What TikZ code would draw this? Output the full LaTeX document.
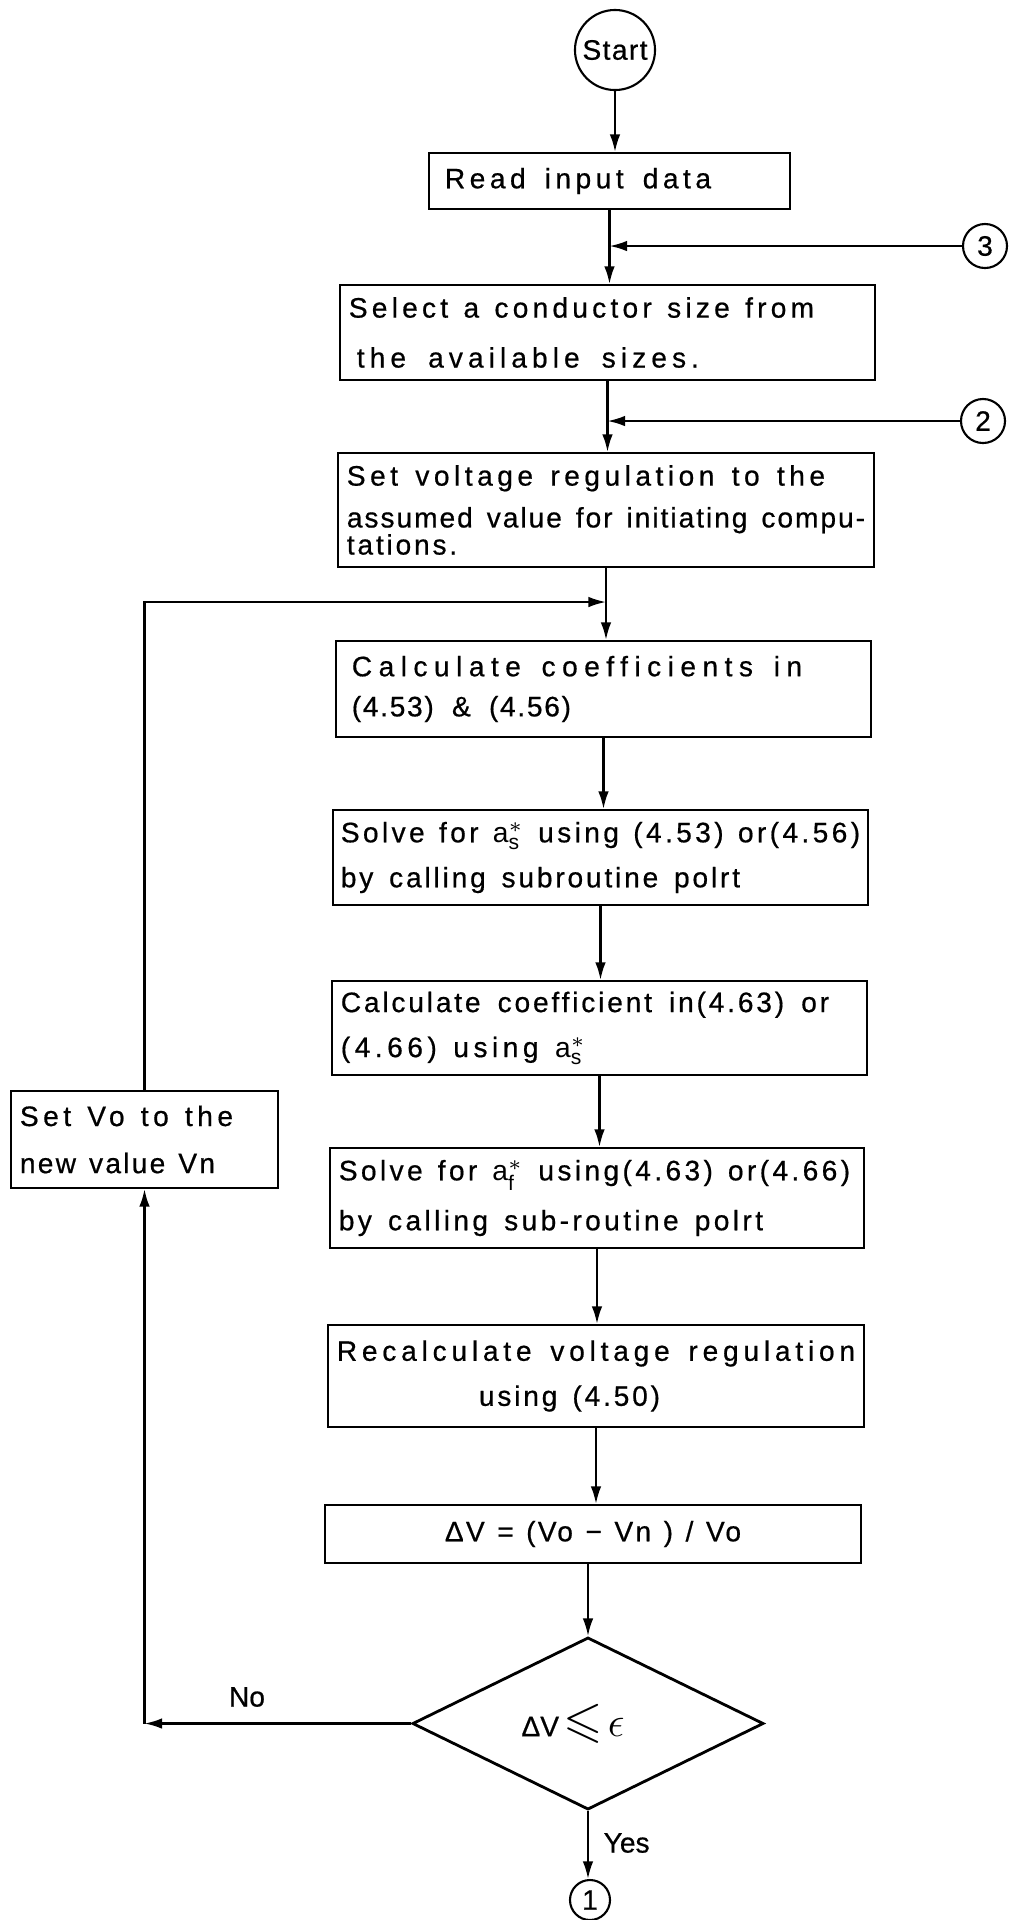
\documentclass[tikz,border=0pt]{standalone}
\usepackage{fontspec}
\usepackage{amssymb}
\setmainfont{Liberation Sans}[FakeBold=0.6]
\setsansfont{Liberation Sans}
\usetikzlibrary{shapes.geometric,arrows.meta}
\setlength\parindent{0pt}
\newcommand\fitline[3][6]{{\addfontfeature{LetterSpace=#1}\spaceskip=0.3em plus 1fil\relax\xspaceskip=\spaceskip\makebox[#2][s]{#3}}}
\newcommand\astar[1]{$\mathsf{a}_{\mathsf{#1}}^{*}$}
\begin{document}
\begin{tikzpicture}[x=0.01cm,y=-0.01cm,
  every node/.style={font=\fontsize{8}{10}\selectfont},
  box/.style={draw, rectangle, line width=0.6pt, inner xsep=0.09cm, inner ysep=0pt, align=left},
  flow/.style={-{Latex[length=5pt,width=3pt]}, line width=0.6pt},
  conn/.style={draw, circle, line width=0.6pt, inner sep=0pt},
  dia/.style={draw, diamond, line width=0.8pt, inner sep=0pt},
  lbl/.style={inner sep=0pt}]
\fill[white] (0,0) rectangle (1009,1920);
\useasboundingbox (0,0) rectangle (1009,1920);

\node[conn, minimum size=0.8cm] (start) at (615,50) {{\addfontfeature{LetterSpace=5}Start}};
\node[box, minimum width=3.61cm, minimum height=0.56cm, text width=3.43cm] (read) at (609.5,181) {\hspace*{0.07cm}\fitline[16]{2.66cm}{Read input data}};
\node[conn, minimum size=0.44cm] (c3) at (985,246) {3};
\node[box, minimum width=5.35cm, minimum height=0.95cm, text width=5.17cm, font={\fontsize{8}{14.2}\selectfont}] (sel) at (607.5,332.5) {\fitline[15]{4.65cm}{Select a conductor size from}\\\hspace*{0.08cm}\fitline[18]{3.42cm}{the available sizes.}};
\node[conn, minimum size=0.44cm] (c2) at (983,421) {2};
\node[box, minimum width=5.36cm, minimum height=1.14cm, text width=5.18cm, font={\fontsize{8}{11.9}\selectfont}] (set) at (606,510) {\fitline[16]{4.78cm}{Set voltage regulation to the}\\\fitline[7]{5.18cm}{assumed value for initiating compu-}\\[-4.2pt]{\addfontfeature{LetterSpace=10}tations.}};
\node[box, minimum width=5.35cm, minimum height=0.96cm, text width=5.17cm, font={\fontsize{8}{11.4}\selectfont}] (calc) at (603.5,689) {\hspace*{0.07cm}\fitline[23]{4.50cm}{Calculate coefficients in}\\\hspace*{0.07cm}\fitline[6]{2.19cm}{(4.53) \& (4.56)}};
\node[box, minimum width=5.35cm, minimum height=0.95cm, inner xsep=0.08cm, text width=5.19cm, font={\fontsize{8}{12.8}\selectfont}] (solve) at (600.5,857.5) {\fitline[12]{5.19cm}{Solve for \astar{s} using (4.53) or(4.56)}\\\fitline[10]{3.99cm}{by calling subroutine polrt}};
\node[box, minimum width=5.35cm, minimum height=0.94cm, text width=5.17cm, font={\fontsize{8}{12.8}\selectfont}] (coef) at (599.5,1028) {\fitline[10]{4.88cm}{Calculate coefficient in(4.63) or}\\\fitline[16]{2.45cm}{(4.66) using \astar{s}}};
\node[box, minimum width=5.34cm, minimum height=1.00cm, text width=5.16cm, font={\fontsize{8}{14.2}\selectfont}] (solvef) at (597,1198) {\fitline[12]{5.11cm}{Solve for \astar{f} using(4.63) or(4.66)}\\\fitline[12]{4.24cm}{by calling sub-routine polrt}};
\node[box, minimum width=5.36cm, minimum height=1.02cm, text width=5.18cm, font={\fontsize{8}{12.8}\selectfont}] (recalc) at (596,1376) {\fitline[17]{5.18cm}{Recalculate voltage regulation}\\\hspace*{1.42cm}\fitline[10]{1.81cm}{using (4.50)}};
\node[box, minimum width=5.36cm, minimum height=0.58cm, text width=5.18cm, align=center] (dv) at (593,1534) {\fitline[8]{2.96cm}{ΔV = (Vo − Vn ) / Vo}\hspace*{0.24cm}};
\node[dia, minimum width=3.51cm, minimum height=1.57cm] (dia) at (588,1723.5) {ΔV\,{\Large$\leqslant$}\,{\large$\epsilon$}\hspace*{0.3cm}};
\node[conn, minimum size=0.40cm] (c1) at (590,1900) {1};
\node[box, minimum width=2.67cm, minimum height=0.97cm, text width=2.49cm, font={\fontsize{8}{13.4}\selectfont}] (setvo) at (144.5,1139.5) {\fitline[16]{2.13cm}{Set Vo to the}\\\fitline[8]{1.95cm}{new value Vn}};
\node[lbl] (no) at (247,1697) {No};
\node[lbl, anchor=west] (yes) at (603,1843) {Yes};

\draw[flow] (start.south) -- (start.south |- read.north);
\draw[flow] (read.south) -- (read.south |- sel.north);
\draw[flow] (c3.west) -- (c3.west -| read.south);
\draw[flow] (sel.south) -- (sel.south |- set.north);
\draw[flow] (c2.west) -- (c2.west -| sel.south);
\draw[flow] (set.south) -- (set.south |- calc.north);
\coordinate (looptop) at (144.5,602);
\draw[flow] (setvo.north) -- (looptop) -- (looptop -| set.south);
\draw[flow] (calc.south) -- (calc.south |- solve.north);
\draw[flow] (solve.south) -- (solve.south |- coef.north);
\draw[flow] (coef.south) -- (coef.south |- solvef.north);
\draw[flow] (solvef.south) -- (solvef.south |- recalc.north);
\draw[flow] (recalc.south) -- (recalc.south |- dv.north);
\draw[flow] (dia.north |- dv.south) -- (dia.north);
\coordinate (nocorner) at (setvo.south |- dia.west);
\draw[flow] (dia.west) -- (nocorner);
\draw[flow] (nocorner) -- (setvo.south);
\draw[flow] (dia.south) -- (dia.south |- c1.north);
\end{tikzpicture}
\end{document}
